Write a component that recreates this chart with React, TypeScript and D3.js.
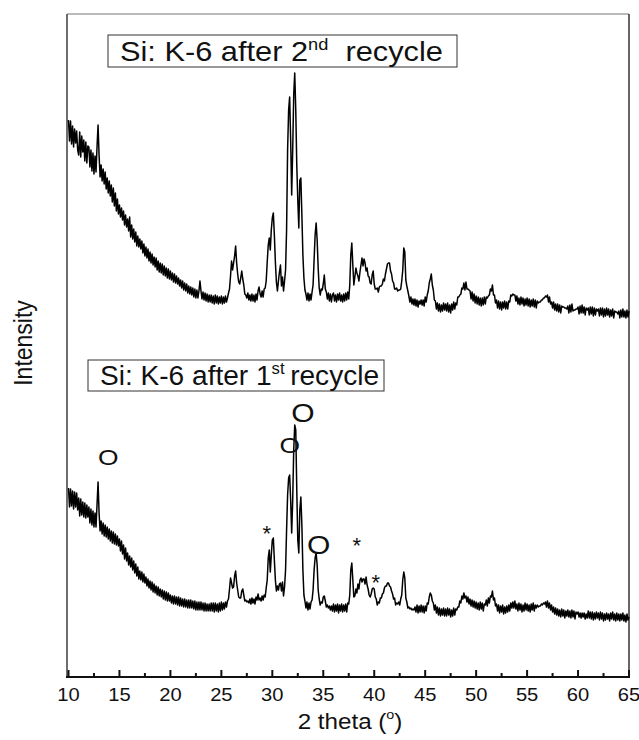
import React from 'react';
import * as d3 from 'd3';

// 2θ grid: 10.0° to 65.0°, 0.1° step
const THETA_START = 10;
const THETA_STEP = 0.1;

// Intensity (a.u.) after 2nd recycle, one row per degree (x.0 … x.9)
const after2nd: number[] = [
  557,536,556,533,551,530,548,534,546,527, // 10
  522,545,520,541,525,537,516,535,514,531, // 11
  530,510,527,506,524,503,521,505,530,552, // 12
  522,500,512,496,508,493,505,488,499,484, // 13
  496,481,492,475,489,471,484,466,478,463, // 14
  472,460,469,457,466,452,462,450,458,446, // 15
  460,440,452,438,448,435,445,431,441,430, // 16
  438,428,436,424,433,421,430,419,428,416, // 17
  425,414,423,412,420,410,419,407,416,405, // 18
  414,404,413,402,411,401,409,399,408,398, // 19
  406,397,404,395,403,394,401,393,399,391, // 20
  397,389,396,387,394,386,393,384,391,383, // 21
  390,382,389,380,388,379,387,379,386,396, // 22
  386,378,385,377,384,376,383,375,382,375, // 23
  382,374,381,373,382,374,381,373,380,374, // 24
  381,373,380,374,381,375,379,384,388,401, // 25
  416,407,414,421,431,414,403,395,393,399, // 26
  406,398,392,383,382,379,384,377,382,376, // 27
  383,376,382,375,383,377,386,390,383,380, // 28
  386,380,388,389,396,415,432,439,427,447, // 29
  459,464,442,415,395,386,396,405,412,391, // 30
  400,386,396,407,447,527,567,580,537,482, // 31
  527,582,604,567,512,477,449,497,499,462, // 32
  422,399,387,383,377,384,376,383,377,385, // 33
  392,417,442,454,437,409,389,382,388,387, // 34
  393,402,388,385,378,384,376,383,375,382, // 35
  384,376,382,375,383,377,384,376,382,375, // 36
  383,376,384,377,385,378,392,422,434,412, // 37
  392,400,409,404,401,396,405,412,419,411, // 38
  418,414,406,409,401,400,394,393,402,406, // 39
  393,388,388,389,385,390,391,391,393,398, // 40
  396,403,408,413,414,414,406,403,396,394, // 41
  388,388,389,386,387,387,388,396,407,429, // 42
  425,397,391,386,381,375,380,373,378,372, // 43
  378,371,377,370,376,373,377,372,377,371, // 44
  380,375,382,386,394,398,403,392,387,377, // 45
  376,368,374,366,373,365,372,366,374,367, // 46
  373,366,374,365,372,364,373,367,375,368, // 47
  374,372,380,380,382,383,389,388,394,387, // 48
  395,388,388,387,386,378,385,376,383,374, // 49
  381,373,380,372,379,371,379,372,380,373, // 50
  380,379,381,382,388,386,392,382,382,374, // 51
  377,369,376,368,375,367,375,369,376,368, // 52
  375,368,376,375,382,381,383,382,382,376, // 53
  381,373,379,372,380,373,379,371,378,372, // 54
  379,371,378,370,377,371,378,370,377,369, // 55
  376,374,375,375,377,377,379,379,381,380, // 56
  382,375,380,373,375,369,375,367,373,366, // 57
  373,365,372,364,371,370,370,369,369,368, // 58
  371,364,372,365,373,366,367,367,368,368, // 59
  370,363,371,364,372,364,370,362,369,367, // 60
  369,362,370,363,370,361,369,362,368,366, // 61
  368,361,369,362,369,360,368,361,369,362, // 62
  368,360,367,361,368,359,366,365,365,363, // 63
  366,359,367,360,368,360,366,359,367,360, // 64
  366,                                     // 65
];

// Intensity (a.u.) after 1st recycle
const after1st: number[] = [
  189,170,188,171,186,168,185,170,184,167, // 10
  179,161,178,162,175,160,174,159,172,160, // 11
  170,154,168,152,166,150,164,150,172,195, // 12
  164,146,156,143,154,141,152,140,150,138, // 13
  148,136,146,134,145,133,143,132,141,131, // 14
  138,126,136,123,132,118,129,116,124,112, // 15
  121,110,119,107,116,104,113,101,110,98,  // 16
  106,97,105,95,103,94,100,91,98,89,       // 17
  96,87,95,85,93,84,91,82,90,81,           // 18
  88,80,87,78,86,77,85,76,84,76,           // 19
  82,74,81,73,81,73,80,72,80,71,           // 20
  79,71,78,70,78,70,77,69,77,69,           // 21
  77,69,76,68,76,67,75,67,75,67,           // 22
  75,67,74,66,74,66,73,66,73,66,           // 23
  74,66,74,65,74,66,73,65,74,66,           // 24
  75,67,74,68,75,70,76,78,88,99,           // 25
  94,89,90,101,106,94,87,80,79,79,         // 26
  86,88,82,76,77,75,76,74,78,73,           // 27
  79,74,78,73,80,77,83,77,79,76,           // 28
  81,77,82,80,89,97,119,127,105,122,       // 29
  137,139,117,97,86,91,87,93,94,86,        // 30
  95,81,90,107,147,182,199,202,177,144,    // 31
  177,227,252,247,187,137,124,167,180,152, // 32
  107,82,76,69,75,67,74,68,75,77,          // 33
  87,107,119,124,112,87,78,72,75,74,       // 34
  80,81,76,70,72,69,71,67,71,66,           // 35
  73,65,72,66,73,64,72,66,73,65,           // 36
  72,66,73,65,74,73,82,107,114,97,         // 37
  80,81,88,84,93,88,97,99,95,98,           // 38
  98,93,100,92,88,82,80,83,88,89,          // 39
  88,80,78,72,75,74,79,79,83,84,           // 40
  89,91,91,94,94,91,90,86,83,78,           // 41
  79,72,74,73,75,72,78,82,97,105,          // 42
  99,79,75,69,70,68,69,67,68,67,           // 43
  70,65,72,64,71,65,72,65,71,64,           // 44
  71,66,74,73,80,84,82,76,74,67,           // 45
  72,64,70,62,69,61,68,62,69,61,           // 46
  68,61,69,62,68,60,67,61,69,62,           // 47
  68,67,70,70,76,74,81,78,84,79,           // 48
  81,75,80,73,78,71,77,70,76,69,           // 49
  75,68,74,67,75,68,74,66,73,72,           // 50
  77,71,79,74,81,80,86,77,79,71,           // 51
  73,66,72,64,71,65,72,63,70,64,           // 52
  71,65,72,66,74,69,75,69,76,68,           // 53
  73,66,74,67,73,65,72,66,74,67,           // 54
  73,66,72,65,73,67,74,66,72,69,           // 55
  72,70,71,71,73,72,74,73,75,70,           // 56
  76,69,74,67,72,65,70,63,69,62,           // 57
  68,61,67,60,68,61,67,59,66,61,           // 58
  67,60,66,59,67,60,66,58,65,63,           // 59
  65,60,64,59,64,60,64,58,63,59,           // 60
  66,59,65,58,65,57,64,58,65,59,           // 61
  64,57,65,58,64,56,63,57,64,58,           // 62
  63,56,64,58,65,57,63,56,64,57,           // 63
  63,56,63,57,64,56,62,55,63,57,           // 64
  60,                                      // 65
];

const xTicks = [10, 15, 20, 25, 30, 35, 40, 45, 50, 55, 60, 65];
const xMinorTicks = [12.5, 17.5, 22.5, 27.5, 32.5, 37.5, 42.5, 47.5, 52.5, 57.5, 62.5];

// phase markers on the 1st-recycle pattern (centre of glyph, in data units)
const markLabels = ['O', 'O', 'O', 'O', '*', '*', '*'];
const markTheta = [13.9, 31.7, 33.0, 34.55, 29.45, 38.3, 40.15];
const markIntensity = [220, 232, 264, 132, 149, 137, 100];
const markBig = [false, false, true, true, false, false, false];

const FONT = 'Liberation Sans, Arial, Helvetica, sans-serif';

export default function App() {
  const W = 639, H = 740;
  const left = 67, right = 629, top = 14, bottom = 677;
  const x = d3.scaleLinear().domain([10, 65]).range([68.5, 629]);
  const y = d3.scaleLinear().domain([0, 663]).range([bottom, top]);

  const line = d3.line<number>()
    .x((_, i) => x(THETA_START + i * THETA_STEP))
    .y((d) => y(d));

  return (
    <svg width={W} height={H} style={{ position: 'absolute', left: 0, top: 0, background: '#fff' }}
      fontFamily={FONT}>
      <rect x={0} y={0} width={W} height={H} fill="#fff" />
      {/* frame */}
      <line x1={left} x2={right} y1={top} y2={top} stroke="#777" strokeWidth={1} />
      <line x1={right} x2={right} y1={top} y2={bottom} stroke="#333" strokeWidth={1.5} />
      <line x1={left} x2={left} y1={top} y2={bottom + 1} stroke="#6e6e6e" strokeWidth={2} />
      <line x1={left - 1} x2={right + 1} y1={bottom} y2={bottom} stroke="#111" strokeWidth={2} />
      {/* ticks */}
      {xTicks.map((t) => (
        <g key={t}>
          <line x1={x(t)} x2={x(t)} y1={bottom} y2={bottom - 7} stroke="#111" strokeWidth={2} />
          <g transform={`translate(${x(t)},701) scale(1.12,1)`}>
            <text x={0} y={0} fontSize={18} textAnchor="middle" fill="#111">{t}</text>
          </g>
        </g>
      ))}
      {xMinorTicks.map((t) => (
        <line key={t} x1={x(t)} x2={x(t)} y1={bottom} y2={bottom - 4} stroke="#111" strokeWidth={2} />
      ))}
      {/* axis titles */}
      <g transform="translate(350,729) scale(1.1,1)">
        <text x={0} y={0} fontSize={22} textAnchor="middle" fill="#111">
          2 theta (<tspan dy={-10} fontSize={13}>o</tspan><tspan dy={10} fontSize={22}>)</tspan>
        </text>
      </g>
      <g transform="translate(32,343) rotate(-90) scale(1,1.15)">
        <text x={0} y={0} fontSize={23} textAnchor="middle" fill="#111">Intensity</text>
      </g>

      {/* patterns */}
      <path d={line(after2nd) || ''} fill="none" stroke="#000" strokeWidth={1.5} strokeLinejoin="round" />
      <path d={line(after1st) || ''} fill="none" stroke="#000" strokeWidth={1.5} strokeLinejoin="round" />

      {/* legends */}
      <rect x={108} y={35} width={349} height={32} fill="#fff" stroke="#333" strokeWidth={1} />
      <g transform="translate(120,61) scale(1.14,1)">
        <text x={0} y={0} fontSize={27} fill="#111">
          Si: K-6 after 2<tspan dy={-11} fontSize={16}>nd</tspan>
          <tspan dy={11} fontSize={27}>{'\u00a0\u00a0recycle'}</tspan>
        </text>
      </g>
      <rect x={88} y={360} width={296} height={31} fill="#fff" stroke="#333" strokeWidth={1} />
      <g transform="translate(100,385) scale(1.04,1)">
        <text x={0} y={0} fontSize={27} fill="#111">
          Si: K-6 after 1<tspan dy={-11} fontSize={16}>st</tspan>
          <tspan dy={11} fontSize={27}>{'\u2009recycle'}</tspan>
        </text>
      </g>

      {/* markers */}
      {markLabels.map((m, i) => {
        const size = m === '*' ? 22 : markBig[i] ? 25 : 22;
        const off = m === '*' ? 0.58 : 0.36;
        const sx = m === '*' ? 1 : 1.2;
        return (
          <g key={i} transform={`translate(${x(markTheta[i])},${y(markIntensity[i]) + off * size}) scale(${sx},1)`}>
            <text x={0} y={0} fontSize={size} textAnchor="middle" fill="#111">{m}</text>
          </g>
        );
      })}
    </svg>
  );
}
